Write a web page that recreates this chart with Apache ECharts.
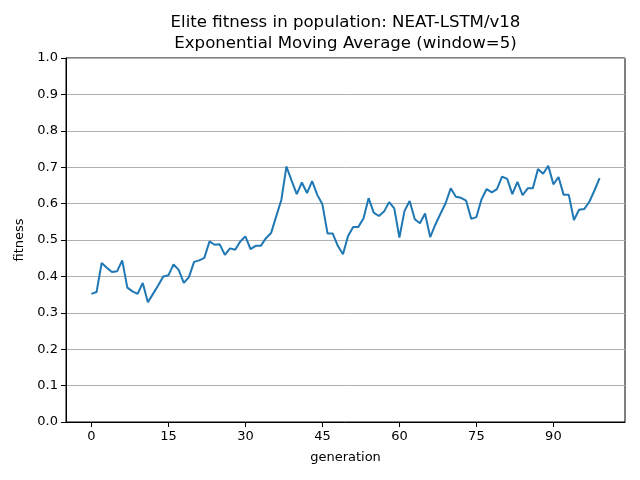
<!DOCTYPE html>
<html>
<head>
<meta charset="utf-8">
<script src="https://cdn.jsdelivr.net/npm/echarts@6/dist/echarts.min.js"></script>
<style>html,body{margin:0;padding:0;background:#fff}#c{width:640px;height:480px}</style>
</head>
<body>
<div id="c"></div>
<script>
var titleLines = ["Elite fitness in population: NEAT-LSTM/v18", "Exponential Moving Average (window=5)"];
var xTicks = [0, 15, 30, 45, 60, 75, 90];
var generations = [];
for (var g = 0; g < 100; g++) generations.push(g);
var fitness = [
0.352,0.357,0.437,0.424,0.412,0.414,0.444,0.369,0.359,0.352,
0.382,0.329,0.352,0.375,0.400,0.403,0.433,0.418,0.382,0.398,
0.440,0.444,0.451,0.496,0.487,0.488,0.459,0.477,0.473,0.496,
0.510,0.475,0.484,0.484,0.505,0.519,0.565,0.610,0.702,0.663,
0.626,0.658,0.629,0.662,0.624,0.598,0.518,0.518,0.484,0.461,
0.511,0.536,0.536,0.559,0.615,0.575,0.566,0.578,0.604,0.587,
0.507,0.580,0.607,0.557,0.546,0.573,0.508,0.542,0.572,0.601,
0.642,0.619,0.616,0.608,0.558,0.563,0.612,0.640,0.631,0.640,
0.674,0.668,0.626,0.660,0.623,0.642,0.642,0.695,0.682,0.704,
0.653,0.673,0.624,0.624,0.555,0.583,0.585,0.605,0.636,0.670
];
var seriesData = generations.map(function (x, i) { return [x, fitness[i]]; });

var chart = echarts.init(document.getElementById('c'), null, {renderer: 'canvas'});
var font = 'DejaVu Sans';
chart.setOption({
  animation: false,
  backgroundColor: '#ffffff',
  graphic: [
    {type: 'text', x: 345.5, y: 23, style: {text: titleLines[0], font: '16.6px "DejaVu Sans"', fill: '#000', textAlign: 'center', textVerticalAlign: 'middle'}},
    {type: 'text', x: 345.5, y: 44, style: {text: titleLines[1], font: '16.6px "DejaVu Sans"', fill: '#000', textAlign: 'center', textVerticalAlign: 'middle'}}
  ],
  grid: {left: 66, right: 15, top: 58, bottom: 58, show: true, borderColor: '#000', borderWidth: 1, backgroundColor: 'transparent'},
  xAxis: {
    type: 'value', min: -4.95, max: 103.95,
    name: 'generation', nameLocation: 'middle', nameGap: 29,
    nameTextStyle: {fontFamily: font, fontSize: 13, color: '#000'},
    axisLine: {show: true, onZero: false, lineStyle: {color: '#000', width: 1}},
    axisTick: {show: true, length: 5, customValues: xTicks, lineStyle: {color: '#000'}},
    axisLabel: {customValues: xTicks, fontFamily: font, fontSize: 13, color: '#000', margin: 8},
    splitLine: {show: false}
  },
  yAxis: {
    type: 'value', min: 0, max: 1, interval: 0.1,
    name: 'fitness', nameLocation: 'middle', nameGap: 38,
    nameTextStyle: {fontFamily: font, fontSize: 13, color: '#000'},
    axisLine: {show: true, onZero: false, lineStyle: {color: '#000', width: 1}},
    axisTick: {show: true, length: 5, lineStyle: {color: '#000'}},
    axisLabel: {fontFamily: font, fontSize: 13, color: '#000', margin: 8,
      formatter: function (v) { return v.toFixed(1); }},
    splitLine: {show: true, lineStyle: {color: '#b0b0b0', width: 1}}
  },
  series: [{
    type: 'line', data: seriesData, showSymbol: false, symbol: 'none',
    lineStyle: {color: '#1f77b4', width: 2}, itemStyle: {color: '#1f77b4'}
  }]
});
</script>
</body>
</html>
